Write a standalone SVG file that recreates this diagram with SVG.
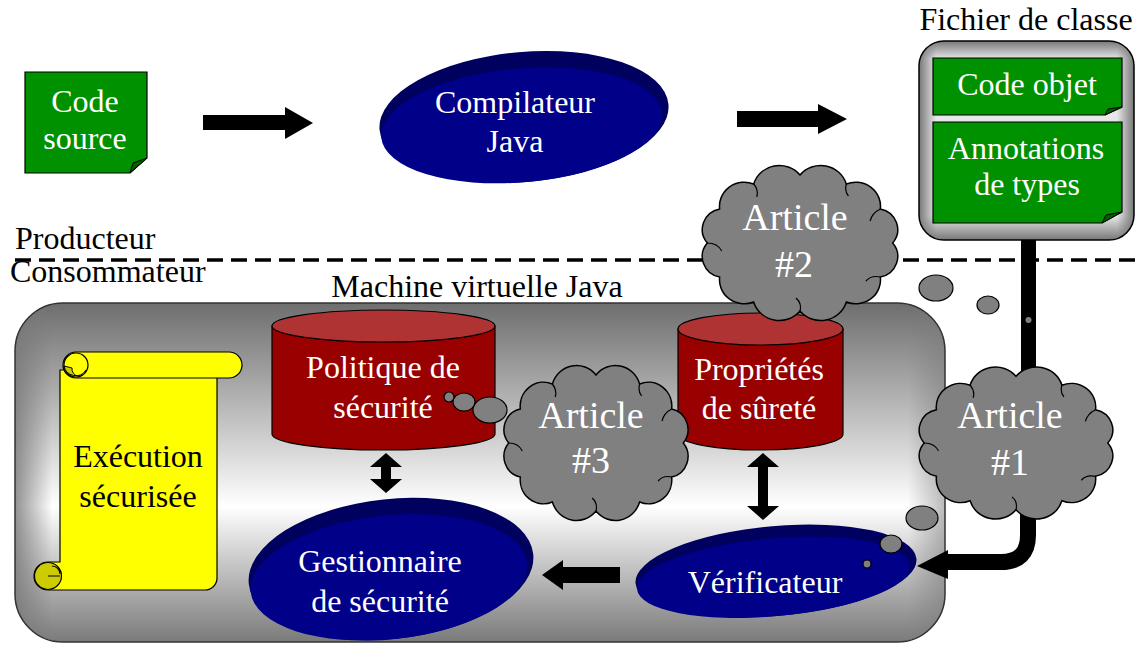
<svg xmlns="http://www.w3.org/2000/svg" xmlns:xlink="http://www.w3.org/1999/xlink" width="1141" height="649" viewBox="0 0 1141 649" font-family="'Liberation Serif', 'DejaVu Serif', serif">
  <style>
    text { font-family: "Liberation Serif", "DejaVu Serif", serif; font-size: 32px; text-anchor: middle; }
    .w { fill: #ffffff; }
    .k { fill: #000000; }
    .lbl { text-anchor: start; }
    .art { font-size: 38px; }
    .doc { fill: #009100; stroke: #000; stroke-width: 1.2; }
    .fold { fill: #006000; stroke: #000; stroke-width: 1; }
    .cloud { fill: #808080; stroke: #000; stroke-width: 1.5; }
    .crease { fill: none; stroke: #000; stroke-width: 1.2; }
    .bub { fill: #808080; stroke: #000; stroke-width: 1.2; }
    .cyl { fill: #990000; stroke: #000; stroke-width: 1.2; }
    .cyltop { fill: #b03333; stroke: #000; stroke-width: 1.2; }
    .navyback { fill: #00005e; }
    .navy { fill: #000088; }
    .blk { fill: #000; }
  </style>
  <defs>
    <linearGradient id="jvmV" x1="0" y1="0" x2="0" y2="1">
      <stop offset="0" stop-color="#6e6e6e"/>
      <stop offset="0.6" stop-color="#ffffff"/>
      <stop offset="1" stop-color="#7a7a7a"/>
    </linearGradient>
    <linearGradient id="edgeH" x1="0" y1="0" x2="1" y2="0">
      <stop offset="0" stop-color="#777" stop-opacity="0.8"/>
      <stop offset="0.04" stop-color="#777" stop-opacity="0"/>
      <stop offset="0.96" stop-color="#777" stop-opacity="0"/>
      <stop offset="1" stop-color="#777" stop-opacity="0.5"/>
    </linearGradient>
    <linearGradient id="frameH" x1="0" y1="0" x2="1" y2="0">
      <stop offset="0" stop-color="#777"/>
      <stop offset="0.08" stop-color="#e8e8e8"/>
      <stop offset="0.92" stop-color="#e8e8e8"/>
      <stop offset="1" stop-color="#777"/>
    </linearGradient>
    <linearGradient id="frameV" x1="0" y1="0" x2="0" y2="1">
      <stop offset="0" stop-color="#777" stop-opacity="1"/>
      <stop offset="0.09" stop-color="#777" stop-opacity="0"/>
      <stop offset="0.88" stop-color="#777" stop-opacity="0"/>
      <stop offset="1" stop-color="#777" stop-opacity="1"/>
    </linearGradient>
    <!-- generic cloud, centred on (100,80), with a few inner creases -->
    <g id="cloud">
      <path vector-effect="non-scaling-stroke" d="M190,80 A21,21 0 0 1 178,114 A24,24 0 0 1 145,139 A26,26 0 0 1 100,148 A26,26 0 0 1 55,139 A24,24 0 0 1 22,114 A21,21 0 0 1 10,80 A21,21 0 0 1 22,46 A24,24 0 0 1 55,21 A26,26 0 0 1 100,12 A26,26 0 0 1 145,21 A24,24 0 0 1 178,46 A21,21 0 0 1 190,80 Z"/>
      <path class="crease" vector-effect="non-scaling-stroke" d="M178,46 q-8,4 -10,12 M55,21 q5,6 3,13 M10,80 q10,0 14,8 M100,148 q2,-8 -4,-13 M178,114 q-9,-2 -14,4 M145,21 q-2,7 2,12"/>
    </g>
  </defs>

  <rect width="1141" height="649" fill="#ffffff"/>

  <!-- Java virtual machine container -->
  <g id="jvm">
    <rect x="15" y="303" width="930" height="339" rx="48" fill="url(#jvmV)"/>
    <rect x="15" y="303" width="930" height="339" rx="48" fill="url(#edgeH)" stroke="#333" stroke-width="1.5"/>
    <text x="477" y="297" class="k" font-size="31">Machine virtuelle Java</text>
  </g>

  <!-- producer / consumer boundary -->
  <g id="boundary">
    <line x1="15" y1="260" x2="1141" y2="260" stroke="#000" stroke-width="3.5" stroke-dasharray="16 8"/>
    <text x="15" y="249" class="k lbl">Producteur</text>
    <text x="10" y="282" class="k lbl">Consommateur</text>
  </g>

  <!-- connectors -->
  <g id="connectors">
    <polygon class="blk" points="203,115 285,115 285,107 313,123 285,139 285,130 203,130"/>
    <polygon class="blk" points="737,111 818,111 818,104 847,119 818,134 818,127 737,127"/>
    <line x1="1028.5" y1="240" x2="1028.5" y2="400" stroke="#000" stroke-width="15"/>
    <circle cx="1028.5" cy="320" r="3" fill="#808080"/>
    <path d="M1028,480 V535 Q1028,562 1001,562 H940" fill="none" stroke="#000" stroke-width="16"/>
    <polygon class="blk" points="948,550 948,579 917,566"/>
    <polygon class="blk" points="386,453 402,467 391,467 391,479 402,479 386,493 370,479 381,479 381,467 370,467"/>
    <polygon class="blk" points="763,453 779,467 768,467 768,506 779,506 763,520 747,506 758,506 758,467 747,467"/>
    <polygon class="blk" points="542,575 563,560 563,567 620,567 620,583 563,583 563,590"/>
  </g>

  <!-- source code document -->
  <g id="code-source">
    <polygon class="doc" points="25,72 147,72 147,158 130,173 25,173"/>
    <polygon class="fold" points="130,173 133,163 147,158"/>
    <text x="85" y="112" class="w">Code</text>
    <text x="85" y="149" class="w">source</text>
  </g>

  <!-- Java compiler -->
  <g id="compilateur">
    <g transform="rotate(-5 524 117)">
      <ellipse cx="524" cy="117" rx="145" ry="65" class="navyback"/>
      <ellipse cx="521" cy="125" rx="141" ry="57" class="navy"/>
    </g>
    <text x="515" y="113" class="w">Compilateur</text>
    <text x="515" y="152" class="w">Java</text>
  </g>

  <!-- class file -->
  <g id="fichier-classe">
    <text x="1026" y="30" class="k">Fichier de classe</text>
    <rect x="919" y="41" width="215" height="199" rx="25" fill="url(#frameH)"/>
    <rect x="919" y="41" width="215" height="199" rx="25" fill="url(#frameV)" stroke="#000" stroke-width="1.5"/>
    <polygon class="doc" points="933,58 1122,58 1122,107 1105,115 933,115"/>
    <polygon class="fold" points="1105,115 1108,109 1122,107"/>
    <text x="1027" y="95" class="w">Code objet</text>
    <polygon class="doc" points="933,122 1122,122 1122,212 1102,223 933,223"/>
    <polygon class="fold" points="1102,223 1106,215 1122,212"/>
    <text x="1026" y="159" class="w">Annotations</text>
    <text x="1027" y="195" class="w">de types</text>
  </g>

  <!-- secure execution scroll -->
  <g id="execution">
    <path d="M60,370 H217 V578 A12,12 0 0 1 205,590 H48 A14,14 0 0 1 48,562 H60 Z" fill="#ffff00" stroke="#000" stroke-width="1.2"/>
    <circle cx="48" cy="576" r="13.5" fill="#cccc00" stroke="#000" stroke-width="1.2"/>
    <path d="M48,576 H60 M52,566 A8,8 0 0 1 60,574" fill="none" stroke="#000" stroke-width="1.2"/>
    <rect x="63" y="352" width="179" height="26" rx="13" fill="#ffff00" stroke="#000" stroke-width="1.2"/>
    <circle cx="76" cy="365" r="12" fill="#ffff00" stroke="#000" stroke-width="1.2"/>
    <path d="M64,366 A12,12 0 0 0 86,370 A6,6 0 0 1 72,368 Z" fill="#cccc00" stroke="#000" stroke-width="1"/>
    <text x="138" y="467" class="k">Exécution</text>
    <text x="138" y="507" class="k">sécurisée</text>
  </g>

  <!-- security policy -->
  <g id="politique">
    <path class="cyl" d="M272,326 V434 A111.5,16 0 0 0 495,434 V326 Z"/>
    <ellipse class="cyltop" cx="383.5" cy="326" rx="111.5" ry="16"/>
    <text x="383" y="378" class="w">Politique de</text>
    <text x="383" y="418" class="w">sécurité</text>
  </g>

  <!-- safety properties -->
  <g id="proprietes">
    <path class="cyl" d="M678,329 V434 A82.5,16 0 0 0 843,434 V329 Z"/>
    <ellipse class="cyltop" cx="760.5" cy="329" rx="82.5" ry="16"/>
    <text x="759" y="380" class="w">Propriétés</text>
    <text x="759" y="419" class="w">de sûreté</text>
  </g>

  <!-- security manager -->
  <g id="gestionnaire">
    <g transform="rotate(-6 391 569)">
      <ellipse cx="391" cy="569" rx="143" ry="70" class="navyback"/>
      <ellipse cx="388" cy="577" rx="139" ry="62" class="navy"/>
    </g>
    <text x="380" y="572" class="w">Gestionnaire</text>
    <text x="380" y="612" class="w">de sécurité</text>
  </g>

  <!-- verifier -->
  <g id="verificateur">
    <g transform="rotate(-5 776 571)">
      <ellipse cx="776" cy="571" rx="141" ry="45" class="navyback"/>
      <ellipse cx="773" cy="577" rx="137" ry="39" class="navy"/>
    </g>
    <text x="765" y="593" class="w">Vérificateur</text>
  </g>

  <!-- article #2 -->
  <g id="article-2">
    <use xlink:href="#cloud" class="cloud" transform="translate(800,243) scale(1.03,1.0) translate(-100,-80)"/>
    <ellipse class="bub" cx="936" cy="288" rx="17" ry="13"/>
    <ellipse class="bub" cx="988" cy="305" rx="11" ry="9"/>
    <text x="795" y="230" class="w art">Article</text>
    <text x="794" y="277" class="w art">#2</text>
  </g>

  <!-- article #3 -->
  <g id="article-3">
    <use xlink:href="#cloud" class="cloud" transform="translate(596,443) scale(0.97,1.0) translate(-100,-80)"/>
    <ellipse class="bub" cx="490" cy="410" rx="17" ry="13"/>
    <ellipse class="bub" cx="464" cy="402" rx="11" ry="9"/>
    <circle class="bub" cx="449" cy="397" r="5"/>
    <text x="591" y="428" class="w art">Article</text>
    <text x="591" y="473" class="w art">#3</text>
  </g>

  <!-- article #1 -->
  <g id="article-1">
    <use xlink:href="#cloud" class="cloud" transform="translate(1016,443) scale(1.02,0.98) translate(-100,-80)"/>
    <ellipse class="bub" cx="922" cy="518" rx="16" ry="12"/>
    <ellipse class="bub" cx="891" cy="544" rx="11" ry="9"/>
    <circle class="bub" cx="867" cy="564" r="4"/>
    <text x="1010" y="428" class="w art">Article</text>
    <text x="1010" y="475" class="w art">#1</text>
  </g>
</svg>
